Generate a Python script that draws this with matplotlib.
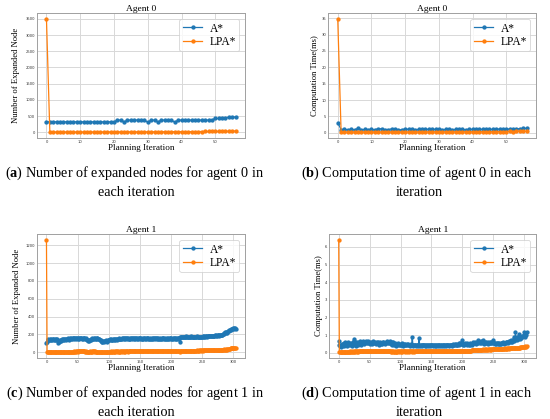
import numpy as np
import matplotlib
matplotlib.use("Agg")
import matplotlib.pyplot as plt
from matplotlib.ticker import MultipleLocator

# ---------------- data ----------------
# (a) Agent 0 expanded nodes
a_astar = [320, 320, 320, 320, 320, 320, 320, 320, 320, 320, 320, 320, 320, 320, 320, 320, 320, 320, 320, 320,
           320, 375, 375, 315, 375, 375, 375, 375, 375, 375, 305, 375, 375, 315, 375, 375, 375, 375, 305, 375,
           375, 375, 375, 375, 375, 375, 375, 375, 375, 375, 425, 425, 425, 425, 470, 470, 465]
a_lpa = [3500, 5, 5, 5, 5, 6, 5, 6, 5, 6, 6, 7, 6, 7, 7, 8, 7, 8, 8, 9,
         9, 10, 9, 10, 10, 11, 10, 11, 11, 12, 12, 13, 12, 13, 14, 14, 15, 15, 16, 16,
         17, 17, 18, 18, 19, 20, 21, 22, 22, 24, 25, 27, 28, 30, 33, 35, 36]

# (b) Agent 0 computation time (ms)
b_astar = [3.1, 0.9, 1.0, 0.9, 1.0, 0.9, 1.3, 0.9, 1.0, 0.9, 1.0, 0.9, 1.2, 1.2, 0.9, 0.9, 1.2, 1.0, 0.9, 0.9,
           1.1, 1.0, 1.0, 0.9, 1.0, 1.0, 1.0, 1.0, 1.0, 1.0, 1.0, 0.9, 1.0, 1.0, 0.9, 1.0, 1.0, 1.0, 0.9, 1.0,
           1.0, 1.0, 1.0, 1.0, 1.0, 1.0, 1.0, 1.1, 1.1, 1.1, 1.1, 1.1, 1.1, 1.2, 1.2, 1.3, 1.3]
b_lpa = [34.8, 0.2, 0.2, 0.2, 0.25, 0.2, 0.2, 0.25, 0.2, 0.2, 0.25, 0.2, 0.25, 0.25, 0.2, 0.2, 0.25, 0.2, 0.25, 0.2,
         0.25, 0.25, 0.2, 0.25, 0.25, 0.25, 0.3, 0.25, 0.25, 0.3, 0.25, 0.3, 0.25, 0.3, 0.3, 0.25, 0.3, 0.3, 0.3, 0.3,
         0.3, 0.3, 0.35, 0.3, 0.3, 0.35, 0.3, 0.35, 0.35, 0.35, 0.35, 0.4, 0.35, 0.4, 0.4, 0.45, 0.45]

# (c) Agent 1 expanded nodes
c_astar = [100, 115, 135, 145, 140, 148, 138, 150, 142, 136, 145, 150, 140, 132, 146, 150, 138, 144, 130, 108,
           112, 125, 138, 142, 130, 145, 148, 140, 150, 136, 144, 152, 140, 148, 155, 145, 150, 142, 156, 150,
           158, 152, 160, 155, 150, 162, 156, 150, 158, 160, 152, 156, 160, 150, 158, 155, 162, 150, 156, 152,
           160, 154, 148, 156, 150, 140, 132, 128, 136, 130, 138, 145, 140, 150, 155, 148, 156, 150, 160, 152,
           148, 155, 160, 150, 145, 152, 140, 138, 128, 118, 112, 125, 110, 120, 128, 122, 135, 118, 130, 138,
           140, 132, 145, 138, 150, 142, 136, 148, 140, 152, 146, 138, 150, 145, 140, 152, 148, 156, 150, 145,
           152, 158, 150, 155, 160, 148, 156, 152, 158, 150, 155, 160, 152, 148, 156, 150, 158, 154, 150, 156,
           152, 158, 150, 156, 160, 152, 155, 150, 158, 154, 150, 156, 160, 152, 148, 155, 150, 158, 152, 156,
           150, 155, 160, 152, 158, 150, 146, 154, 150, 158, 152, 156, 150, 160, 154, 150, 156, 152, 158, 150,
           155, 150, 158, 152, 148, 156, 150, 154, 160, 152, 150, 156, 152, 158, 150, 155, 152, 150, 158, 154,
           150, 156, 152, 158, 150, 154, 150, 156, 152, 158, 150, 154, 156, 150, 112, 168, 172, 175, 168, 172,
           170, 175, 168, 172, 176, 170, 174, 168, 172, 175, 170, 166, 172, 176, 170, 174, 168, 172, 170, 175,
           168, 172, 176, 170, 174, 168, 172, 170, 175, 168, 172, 176, 170, 174, 178, 172, 176, 180, 174, 178,
           176, 180, 178, 182, 176, 180, 184, 182, 186, 180, 184, 188, 186, 190, 184, 188, 192, 186, 190, 188,
           192, 196, 190, 198, 205, 200, 212, 225, 218, 232, 228, 215, 238, 245, 240, 250, 255, 248, 260, 265,
           270, 265, 272, 268, 262]
c_lpa = [1260, 2, 1, 3, 2, 1, 2, 3, 2, 1, 2, 3, 2, 3, 2, 1, 3, 2, 3, 2,
         3, 2, 4, 3, 2, 4, 3, 5, 4, 3, 4, 5, 4, 3, 5, 4, 6, 5, 4, 6,
         5, 6, 7, 6, 8, 7, 6, 8, 7, 9, 8, 7, 9, 8, 10, 9, 8, 9, 10, 8,
         9, 8, 7, 6, 8, 7, 6, 5, 7, 6, 8, 7, 6, 8, 7, 9, 8, 7, 8, 6,
         7, 6, 5, 7, 6, 5, 4, 5, 3, 4, 5, 4, 6, 5, 4, 6, 5, 7, 6, 5,
         6, 7, 5, 6, 8, 7, 6, 8, 7, 6, 8, 7, 9, 8, 7, 8, 6, 7, 8, 7,
         8, 7, 9, 8, 7, 8, 9, 7, 8, 9, 8, 7, 9, 8, 9, 10, 8, 9, 10, 9,
         8, 9, 10, 9, 8, 10, 9, 8, 10, 9, 10, 8, 9, 10, 9, 8, 10, 9, 10, 9,
         10, 9, 8, 10, 9, 10, 11, 9, 10, 11, 10, 9, 11, 10, 9, 11, 10, 11, 10, 9,
         11, 10, 9, 11, 10, 11, 10, 12, 11, 10, 12, 11, 10, 12, 11, 12, 10, 11, 12, 11,
         12, 11, 10, 12, 11, 12, 11, 10, 12, 11, 12, 11, 12, 10, 6, 14, 15, 16, 15, 16,
         16, 15, 17, 16, 15, 17, 16, 18, 17, 16, 18, 17, 16, 18, 17, 18, 16, 17, 18, 17,
         18, 17, 19, 18, 17, 19, 18, 20, 19, 18, 20, 19, 18, 20, 19, 21, 20, 19, 21, 20,
         21, 20, 22, 21, 20, 22, 21, 23, 24, 23, 25, 24, 26, 25, 27, 26, 25, 27, 28, 27,
         28, 27, 29, 28, 30, 29, 31, 30, 29, 31, 32, 30, 33, 32, 35, 38, 42, 44, 46, 45,
         47, 48, 46, 49, 48]

# (d) Agent 1 computation time (ms)
d_astar = [0.65, 0.45, 0.38, 0.32, 0.42, 0.50, 0.36, 0.48, 0.55, 0.40, 0.46, 0.58, 0.44, 0.38, 0.52, 0.62, 0.48, 0.42, 0.56, 0.50,
           0.44, 0.38, 0.52, 0.60, 0.66, 0.80, 0.58, 0.46, 0.40, 0.54, 0.62, 0.48, 0.44, 0.58, 0.66, 0.52, 0.46, 0.60, 0.55, 0.64,
           0.58, 0.50, 0.62, 0.56, 0.66, 0.54, 0.60, 0.52, 0.64, 0.58, 0.50, 0.56, 0.62, 0.54, 0.48, 0.58, 0.64, 0.52, 0.56, 0.60,
           0.54, 0.50, 0.58, 0.62, 0.52, 0.46, 0.56, 0.60, 0.50, 0.54, 0.48, 0.58, 0.62, 0.52, 0.56, 0.50, 0.60, 0.54, 0.64, 0.58,
           0.52, 0.60, 0.56, 0.66, 0.50, 0.54, 0.46, 0.58, 0.62, 0.48, 0.42, 0.52, 0.46, 0.40, 0.48, 0.44, 0.52, 0.46, 0.50, 0.42,
           0.48, 0.44, 0.52, 0.46, 0.40, 0.50, 0.44, 0.48, 0.42, 0.46, 0.50, 0.44, 0.48, 0.42, 0.46, 0.40, 0.44, 0.48, 0.42, 0.88,
           0.44, 0.40, 0.46, 0.42, 0.44, 0.40, 0.42, 0.46, 0.40, 0.44, 0.84, 0.42, 0.40, 0.44, 0.42, 0.40, 0.44, 0.42, 0.46, 0.40,
           0.42, 0.44, 0.40, 0.42, 0.46, 0.40, 0.44, 0.42, 0.40, 0.44, 0.42, 0.46, 0.40, 0.42, 0.44, 0.40, 0.42, 0.44, 0.40, 0.42,
           0.44, 0.40, 0.42, 0.46, 0.40, 0.44, 0.42, 0.40, 0.44, 0.42, 0.40, 0.46, 0.42, 0.44, 0.40, 0.42, 0.46, 0.44, 0.40, 0.42,
           0.44, 0.42, 0.46, 0.40, 0.44, 0.48, 0.42, 0.46, 0.50, 0.44, 0.48, 0.42, 0.46, 0.50, 0.44, 0.52, 0.48, 0.56, 0.50, 0.70,
           0.52, 0.46, 0.50, 0.44, 0.48, 0.54, 0.50, 0.46, 0.52, 0.48, 0.44, 0.50, 0.46, 0.52, 0.48, 0.42, 0.50, 0.56, 0.60, 0.54,
           0.62, 0.56, 0.50, 0.58, 0.52, 0.70, 0.56, 0.60, 0.52, 0.58, 0.64, 0.54, 0.60, 0.72, 0.56, 0.50, 0.58, 0.54, 0.60, 0.52,
           0.56, 0.50, 0.58, 0.54, 0.60, 0.52, 0.56, 0.62, 0.54, 0.72, 0.58, 0.52, 0.56, 0.50, 0.54, 0.48, 0.52, 0.50, 0.54, 0.50,
           0.52, 0.48, 0.54, 0.50, 0.56, 0.52, 0.58, 0.54, 0.50, 0.56, 0.60, 0.54, 0.58, 0.62, 0.56, 0.66, 0.60, 0.64, 0.58, 0.70,
           0.62, 0.68, 0.74, 0.90, 0.66, 0.72, 1.15, 0.80, 0.74, 0.86, 0.78, 1.05, 0.82, 0.76, 0.90, 0.84, 0.95, 0.88, 0.92, 1.00,
           1.15, 0.90, 1.05, 0.98, 1.18]
d_lpa = [6.40, 0.05, 0.04, 0.03, 0.05, 0.04, 0.06, 0.05, 0.04, 0.05, 0.06, 0.04, 0.05, 0.06, 0.05, 0.04, 0.06, 0.05, 0.07, 0.05,
         0.06, 0.05, 0.07, 0.06, 0.05, 0.07, 0.06, 0.08, 0.07, 0.06, 0.08, 0.07, 0.06, 0.08, 0.07, 0.09, 0.08, 0.07, 0.09, 0.08,
         0.09, 0.08, 0.07, 0.09, 0.08, 0.10, 0.09, 0.08, 0.10, 0.09, 0.08, 0.10, 0.09, 0.08, 0.10, 0.09, 0.08, 0.09, 0.10, 0.08,
         0.09, 0.08, 0.10, 0.09, 0.08, 0.07, 0.09, 0.08, 0.07, 0.09, 0.08, 0.10, 0.09, 0.08, 0.09, 0.07, 0.08, 0.09, 0.08, 0.07,
         0.08, 0.09, 0.07, 0.08, 0.06, 0.07, 0.08, 0.06, 0.07, 0.06, 0.05, 0.07, 0.06, 0.05, 0.07, 0.06, 0.07, 0.06, 0.08, 0.07,
         0.06, 0.07, 0.08, 0.06, 0.07, 0.08, 0.07, 0.06, 0.08, 0.07, 0.06, 0.08, 0.07, 0.08, 0.06, 0.07, 0.08, 0.07, 0.06, 0.08,
         0.07, 0.08, 0.06, 0.07, 0.08, 0.07, 0.09, 0.08, 0.07, 0.08, 0.09, 0.07, 0.08, 0.07, 0.09, 0.08, 0.07, 0.08, 0.09, 0.08,
         0.07, 0.08, 0.09, 0.08, 0.07, 0.09, 0.08, 0.07, 0.08, 0.09, 0.08, 0.07, 0.09, 0.08, 0.07, 0.08, 0.09, 0.08, 0.07, 0.09,
         0.08, 0.07, 0.09, 0.08, 0.09, 0.07, 0.08, 0.09, 0.08, 0.07, 0.09, 0.08, 0.09, 0.08, 0.07, 0.09, 0.08, 0.09, 0.08, 0.09,
         0.08, 0.09, 0.08, 0.07, 0.09, 0.08, 0.09, 0.08, 0.09, 0.10, 0.08, 0.09, 0.08, 0.09, 0.10, 0.09, 0.08, 0.10, 0.09, 0.10,
         0.09, 0.10, 0.09, 0.08, 0.10, 0.09, 0.10, 0.09, 0.10, 0.11, 0.10, 0.09, 0.10, 0.11, 0.10, 0.13, 0.15, 0.14, 0.16, 0.15,
         0.16, 0.15, 0.14, 0.16, 0.15, 0.17, 0.16, 0.15, 0.17, 0.16, 0.15, 0.17, 0.16, 0.18, 0.17, 0.16, 0.18, 0.17, 0.16, 0.18,
         0.17, 0.18, 0.16, 0.18, 0.17, 0.19, 0.18, 0.17, 0.19, 0.18, 0.20, 0.19, 0.18, 0.20, 0.19, 0.21, 0.20, 0.19, 0.21, 0.20,
         0.21, 0.20, 0.22, 0.21, 0.23, 0.22, 0.21, 0.23, 0.22, 0.24, 0.23, 0.22, 0.24, 0.23, 0.25, 0.24, 0.23, 0.25, 0.24, 0.26,
         0.25, 0.24, 0.26, 0.25, 0.27, 0.26, 0.25, 0.27, 0.26, 0.28, 0.27, 0.29, 0.28, 0.30, 0.29, 0.31, 0.30, 0.32, 0.33, 0.31,
         0.34, 0.33, 0.35, 0.34, 0.36]

series_names = ["A*", "LPA*"]
titles = ["Agent 0", "Agent 0", "Agent 1", "Agent 1"]
ylabels = ["Number of Expanded Node", "Computation Time(ms)",
           "Number of Expanded Node", "Computation Time(ms)"]
xlabel = "Planning Iteration"
caption_letters = ["a", "b", "c", "d"]
caption_line1 = [") Number of expanded nodes for agent 0 in",
                 ") Computation time of agent 0 in each",
                 ") Number of expanded nodes for agent 1 in",
                 ") Computation time of agent 1 in each"]
caption_line2 = ["each iteration", "iteration", "each iteration", "iteration"]

# ---------------- style ----------------
plt.rcParams['mathtext.fontset'] = 'custom'
plt.rcParams['mathtext.rm'] = 'Liberation Serif'
plt.rcParams['mathtext.bf'] = 'Liberation Serif:bold'

SERIF = "Liberation Serif"
W, H = 550, 419
fig = plt.figure(figsize=(5.5, 4.19), dpi=100)

def rect(l, r, t, b):
    return [l / W, 1 - b / H, (r - l) / W, (b - t) / H]

rects = [rect(37, 245, 13.3, 137.7), rect(328.3, 536, 13.3, 137.7),
         rect(37, 245, 234.3, 357.7), rect(329.3, 536, 234.3, 357.7)]
xsteps = [10, 10, 50, 50]
ysteps = [500, 5, 200, 1]
ylabel_x = [-0.08, -0.045, -0.077, -0.032]
data = [(a_astar, a_lpa), (b_astar, b_lpa), (c_astar, c_lpa), (d_astar, d_lpa)]

for i in range(4):
    ax = fig.add_axes(rects[i])
    astar, lpa = data[i]
    ax.plot(np.arange(len(astar)), astar, color="#1f77b4", marker="o",
            markersize=2.1, linewidth=0.9, label=series_names[0], zorder=3)
    ax.plot(np.arange(len(lpa)), lpa, color="#ff7f0e", marker="o",
            markersize=2.1, linewidth=0.9, label=series_names[1], zorder=3)
    ax.xaxis.set_major_locator(MultipleLocator(xsteps[i]))
    ax.yaxis.set_major_locator(MultipleLocator(ysteps[i]))
    ax.grid(True, color="#d8d8d8", linewidth=0.7)
    ax.set_axisbelow(True)
    for s in ax.spines.values():
        s.set_color("#a0a0a0")
        s.set_linewidth(0.7)
    ax.tick_params(labelsize=2.7, length=0, pad=1.5, labelcolor="#333333")
    ax.set_title(titles[i], fontsize=6.8, family=SERIF, pad=1.5)
    ax.set_xlabel(xlabel, fontsize=6.6, family=SERIF, labelpad=0.5)
    ax.set_ylabel(ylabels[i], fontsize=6.2, family=SERIF)
    ax.yaxis.set_label_coords(ylabel_x[i], 0.5)
    leg = ax.legend(loc="upper right", prop={"family": SERIF, "size": 8.3},
                    labelspacing=0.12, borderpad=0.3, handlelength=1.7,
                    handletextpad=0.6, fancybox=True, framealpha=0.8)
    leg.get_frame().set_linewidth(0.6)

# captions
cap_pos = [(135, 177, 136, 196), (416, 177, 419, 196),
           (135, 397, 136, 415.5), (416, 397, 419, 415.5)]
for i in range(4):
    x1, y1, x2, y2 = cap_pos[i]
    fig.text(x1 / W, 1 - y1 / H, "(" + r"$\mathbf{" + caption_letters[i] + "}$" + caption_line1[i],
             ha="center", va="baseline", fontsize=10.3, family=SERIF)
    fig.text(x2 / W, 1 - y2 / H, caption_line2[i],
             ha="center", va="baseline", fontsize=10.3, family=SERIF)

fig.savefig("out.png", dpi=100)
